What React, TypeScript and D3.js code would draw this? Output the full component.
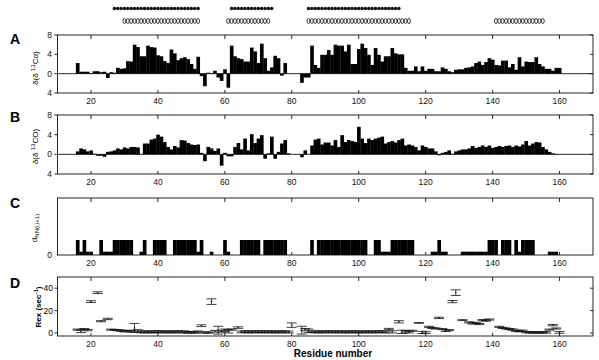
import React from "react";
import * as d3 from "d3";

// ---------- DATA ----------
const caStart = 16;
const caShift = [
  2.2, 0.4, 0.4, 0.4, 0.1, 0.5, 0.5, 0.3, 0.4, -0.9,
  0.3, 0.2, 1.2, 1.0, 1.1, 2.6, 2.5, 6.0, 5.5, 3.6,
  3.6, 5.8, 5.5, 5.4, 3.8, 3.6, 2.6, 2.2, 5.0, 4.2,
  2.8, 3.2, 3.4, 3.0, 2.0, 1.0, 3.5, -0.5, -2.6, 0.2,
  0.1, 0.6, -0.8, -1.5, 0.9, -2.9, 5.8, 3.6, 3.2, 3.0,
  2.5, 2.5, 5.4, 4.6, 2.2, 6.2, 3.2, 0.6, 1.3, 3.7,
  3.2, -0.4, 2.2, 0, 0, 0, 0, -1.9, -0.8, -0.8,
  5.8, 1.8, 1.2, 3.9, 3.9, 4.9, 3.9, 6.0, 5.8, 5.8,
  4.6, 6.0, 2.0, 2.0, 5.1, 6.2, 5.3, 3.9, 1.8, 5.3,
  3.9, 2.5, 3.6, 3.6, 5.3, 4.2, 4.0, 4.0, 1.2, 0.6,
  0.6, 1.5, 0.5, 1.5, 0.6, 1.0, 1.0, 0.5, 0.5, 1.3,
  1.0, 0.5, 0.3, 0.8, 0.9, 0.9, 1.2, 1.3, 1.5, 2.2,
  2.5, 1.8, 2.4, 3.2, 2.9, 1.8, 1.7, 2.7, 2.7, 1.3,
  2.0, 0.8, 3.4, 1.5, 2.5, 2.4, 2.4, 3.4, 2.0, 1.5,
  1.0, 1.0, 0.6, 1.2, 1.2,
];

const coStart = 16;
const coShift = [
  0.6, 1.2, 1.0, 0.6, 0.8, 0.1, -0.3, -0.3, -0.5, 0.5,
  0.6, 0.8, 1.2, 1.0, 1.4, 1.2, 1.5, 1.5, 1.4, 0,
  2.2, 2.2, 3.0, 3.2, 4.0, 3.6, 2.5, 1.5, 1.0, 1.7,
  1.4, 2.9, 2.8, 2.3, 2.0, 1.9, 2.0, 0.3, -1.4, 1.5,
  1.2, 0.7, 1.2, -2.3, 0.3, -0.4, -0.4, 1.5, 2.3, 1.0,
  3.2, 0.8, 4.1, 2.3, 3.2, 3.9, -0.9, 0.2, 3.6, -0.9,
  0.5, 2.2, 2.9, 0.2, 0, 0, 0, -0.6, 0.8, 0,
  1.8, 3.0, 3.2, 2.0, 2.4, 2.4, 1.8, 2.9, 1.5, 3.9,
  2.5, 2.9, 2.7, 2.5, 5.6, 3.2, 2.3, 3.2, 2.9, 3.2,
  3.4, 3.6, 2.2, 2.5, 2.7, 2.4, 2.9, 3.2, 1.8, 2.0,
  1.8, 1.5, 0.8, 1.8, 1.5, 1.2, 1.2, 0.6, -0.2, 0.3,
  0.5, 0.8, 0.1, 0.6, 0.8, 1.0, 1.0, 1.2, 1.7, 1.3,
  1.5, 1.8, 1.5, 1.8, 1.3, 1.5, 1.7, 1.5, 1.7, 1.8,
  1.5, 1.8, 1.6, 2.0, 2.7, 1.8, 2.2, 2.5, 2.4, 1.5,
  1.0, 0.5, 0.2, -0.1,
];

// dNN(i,i+1): 1 = strong, 0.22 = weak
const dnnResidues = [
  16, 17, 18, 19, 20, 23, 24, 25, 26, 27, 28, 29, 30, 31, 32, 35, 36,
  39, 40, 41, 42, 45, 46, 47, 48, 49, 50, 51, 52, 53, 56, 60, 61,
  65, 66, 67, 68, 69, 70, 72, 73, 74, 75, 76, 77, 78, 86,
  88, 89, 90, 91, 92, 93, 94, 95, 96, 97, 98, 99, 100, 101, 102,
  105, 106, 107, 108, 109, 110, 111, 112, 113, 114, 115, 116,
  122, 123, 124, 125, 126, 131, 132, 133, 134, 135, 136, 137, 138,
  139, 140, 141, 143, 144, 145, 147, 148, 149, 150, 151, 152, 157, 158, 159,
];
const dnnValues = [
  1, 0.22, 1, 0.22, 0.22, 1, 0.22, 0.22, 0.22, 1, 1, 1, 1, 1, 1, 0.22, 1,
  1, 1, 1, 1, 1, 1, 1, 1, 1, 1, 1, 0.22, 1, 0.22, 1, 0.22,
  1, 1, 1, 1, 1, 1, 1, 1, 1, 1, 1, 1, 1, 1,
  1, 1, 1, 1, 1, 1, 1, 1, 1, 1, 1, 1, 1, 1, 1,
  1, 1, 0.22, 0.22, 0.22, 1, 1, 1, 1, 1, 1, 1,
  0.22, 0.22, 1, 0.22, 0.22, 0.22, 0.22, 0.22, 0.22, 0.22, 0.22, 0.22, 0.22,
  1, 1, 1, 1, 1, 1, 1, 0.22, 1, 1, 1, 1, 0.22, 0.22, 0.22,
];

// Rex (sec^-1)
const rexResidues = [
  16, 17, 18, 19, 20, 22, 23, 25, 26, 27, 28, 29, 30, 31, 32, 33, 34,
  35, 36, 37, 38, 39, 40, 41, 42, 43, 44, 45, 46, 47, 48,
  49, 50, 51, 52, 53, 54, 55, 56, 57, 58, 59, 60, 61, 62, 64,
  65, 66, 67, 68, 69, 70, 71, 72, 73, 74, 75, 76, 77, 78, 79, 80,
  83, 84, 85, 86, 87, 88, 89, 90, 91, 92, 93, 94, 95, 96, 97, 98, 99, 100,
  101, 102, 103, 104, 105, 106, 107, 108, 109, 110, 112, 113, 114, 115, 116,
  118, 119, 120, 121, 122, 123, 124, 125, 126, 127, 128, 129, 131, 133, 134,
  135, 136, 137, 138, 139, 142, 143, 144, 145, 146, 147, 148, 149, 150,
  151, 152, 153, 154, 155, 156, 157, 158, 159, 160,
];
const rexValues = [
  3, 1.5, 3.5, 2.5, 28, 36, 10.5, 12.5, 3, 2.8, 2.5, 2, 1.5, 2, 1.5, 4.5, 2,
  1.0, 0.8, 1.1, 0.9, 1.0, 1.2, 0.9, 1.0, 1.1, 0.8, 1.0, 1.2, 0.9, 1.0,
  0.5, 0.8, 0.5, 1, 6.5, 0.5, 0.3, 28, 1.5, 2.5, 1.5, 2.5, 1.5, 3, 4.8,
  1.0, 1.1, 0.9, 1.0, 1.0, 1.2, 0.9, 1.0, 1.1, 1.0, 0.9, 1.0, 1.1, 1.0, 0.9, 7,
  2.5, 3, 2, 1.0, 1.1, 0.9, 1.0, 1.0, 1.2, 0.9, 1.0, 1.1, 1.0, 0.9, 1.0, 1.1, 1.0, 0.9,
  1.0, 1.0, 1.1, 0.9, 1.0, 1.2, 1.0, 0.9, 3.5, 1, 10, 1, 1.5, 0.8, 2,
  9, 0.5, 0.3, 5.5, 4.5, 4, 13.5, 3.5, 2, 2.5, 28, 36, 11.5, 9.5, 8.5,
  9, 8, 11.5, 11, 12, 5.5, 4.5, 4, 3.5, 3, 2, 1.5, 2, 0.8,
  0.5, 0.5, 0.5, 0.5, 0.5, 0.5, 3, 7, 4, 0.5,
];
const rexErrors = [
  0.5, 1.2, 0.5, 0.6, 0.8, 0.8, 0.5, 0.6, 0.4, 0.4, 0.5, 0.5, 0.6, 0.5, 0.7, 4, 1,
  0.8, 0.8, 0.8, 0.8, 0.8, 0.8, 0.8, 0.8, 0.8, 0.8, 0.8, 0.8, 0.8, 0.8,
  0.8, 0.6, 0.7, 0.8, 0.8, 0.6, 0.5, 2.5, 0.8, 3.5, 0.8, 1, 1.5, 0.6, 0.7,
  0.8, 0.8, 0.8, 0.8, 0.8, 0.8, 0.8, 0.8, 0.8, 0.8, 0.8, 0.8, 0.8, 0.8, 0.8, 2,
  3.5, 1, 1.5, 0.8, 0.8, 0.8, 0.8, 0.8, 0.8, 0.8, 0.8, 0.8, 0.8, 0.8, 0.8, 0.8, 0.8, 0.8,
  0.8, 0.8, 0.8, 0.8, 0.8, 0.8, 0.8, 0.8, 0.6, 1, 1, 1.5, 0.7, 0.8, 0.5,
  0.3, 1, 0.8, 0.5, 0.5, 0.5, 0.6, 0.5, 0.7, 0.5, 1, 2.5, 0.4, 0.5, 0.6,
  0.5, 0.5, 0.5, 0.5, 0.5, 0.5, 0.5, 0.5, 0.5, 0.6, 0.6, 0.5, 0.6, 0.6,
  0.6, 0.6, 0.6, 0.6, 0.6, 0.6, 0.5, 0.6, 0.5, 0.8,
];

// secondary-structure segments [start, end]
const ssFilled = [[27, 52], [62, 74], [85, 112]];
const ssOpen = [[30, 52], [61, 73], [85, 115], [141, 155]];

const xTicks = [20, 40, 60, 80, 100, 120, 140, 160];
const shiftTicks = [8, 4, 0, -4];
const shiftTickLabels = ["8", "4", "0", "4"];
const rexTicks = [0, 20, 40];

// ---------- LAYOUT ----------
const W = 599;
const H = 360;
const FONT = "'Liberation Sans', Arial, Helvetica, sans-serif";
const x = d3.scaleLinear().domain([10, 170]).range([57.5, 593]);
const X0 = 57.5;
const X1 = 593;

type Panel = { top: number; bottom: number; y: d3.ScaleLinear<number, number> };
const pA: Panel = { top: 35, bottom: 93, y: d3.scaleLinear().domain([-4, 8]).range([93, 35]) };
const pB: Panel = { top: 115, bottom: 174, y: d3.scaleLinear().domain([-4, 8]).range([174, 115]) };
const pC: Panel = { top: 198, bottom: 255, y: d3.scaleLinear().domain([0, 3.8]).range([255, 198]) };
const pD: Panel = { top: 277, bottom: 336, y: d3.scaleLinear().domain([-2.7, 50]).range([336, 277]) };

function Frame({ p }: { p: Panel }) {
  return (
    <g>
      <rect x={X0} y={p.top} width={X1 - X0} height={p.bottom - p.top} fill="none" stroke="#111" strokeWidth={0.9} />
      {xTicks.map((t) => (
        <g key={t}>
          <line x1={x(t)} x2={x(t)} y1={p.top} y2={p.top + 4} stroke="#111" strokeWidth={0.9} />
          <line x1={x(t)} x2={x(t)} y1={p.bottom} y2={p.bottom - 3} stroke="#111" strokeWidth={0.9} />
          <text x={x(t)} y={p.bottom + 10.5} fontSize={8.5} fontFamily={FONT} textAnchor="middle" fill="#111">
            {t}
          </text>
        </g>
      ))}
    </g>
  );
}

function ShiftBars({ p, start, vals }: { p: Panel; start: number; vals: number[] }) {
  const y0 = p.y(0);
  return (
    <g>
      {vals.map((v, i) => {
        const r = start + i;
        if (v === 0) return null;
        const yv = p.y(v);
        return (
          <rect key={r} x={x(r - 0.5)} width={x(r + 0.5) - x(r - 0.5) + 0.3} y={Math.min(yv, y0)} height={Math.abs(yv - y0)} fill="#000" />
        );
      })}
      <line x1={X0} x2={X1} y1={y0} y2={y0} stroke="#111" strokeWidth={0.9} />
      {shiftTicks.map((t, i) => (
        <g key={t}>
          <line x1={X0 - 3} x2={X0} y1={p.y(t)} y2={p.y(t)} stroke="#111" strokeWidth={0.9} />
          <line x1={X1 - 3} x2={X1} y1={p.y(t)} y2={p.y(t)} stroke="#111" strokeWidth={0.9} />
          <text x={52} y={p.y(t) + 3} fontSize={8.5} fontFamily={FONT} textAnchor="end" fill="#111">
            {shiftTickLabels[i]}
          </text>
        </g>
      ))}
    </g>
  );
}

export default function App() {
  const filledDots: number[] = [];
  ssFilled.forEach(([a, b]) => d3.range(a, b + 1).forEach((r) => filledDots.push(r)));
  const openDots: number[] = [];
  ssOpen.forEach(([a, b]) => d3.range(a, b + 1).forEach((r) => openDots.push(r)));

  return (
    <svg width={W} height={H} viewBox={`0 0 ${W} ${H}`} style={{ position: "absolute", left: 0, top: 0, background: "#fff" }}>
      <rect x={0} y={0} width={W} height={H} fill="#fff" />
      {/* secondary structure */}
      {filledDots.map((r) => (
        <circle key={"f" + r} cx={x(r)} cy={8.5} r={1.75} fill="#111" />
      ))}
      {openDots.map((r) => (
        <ellipse key={"o" + r} cx={x(r)} cy={21} rx={1.45} ry={2.6} fill="#fff" stroke="#111" strokeWidth={0.8} />
      ))}

      {/* Panel A */}
      <ShiftBars p={pA} start={caStart} vals={caShift} />
      <Frame p={pA} />
      <text x={10} y={44} fontSize={14} fontWeight="bold" fontFamily={FONT}>A</text>
      <text transform={`translate(38,${(pA.top + pA.bottom) / 2 + 4}) rotate(-90)`} fontSize={8} fontFamily={FONT} textAnchor="middle">
        δ(δ <tspan fontSize={6} dy={-3}>13</tspan><tspan dy={3}>Cα)</tspan>
      </text>

      {/* Panel B */}
      <ShiftBars p={pB} start={coStart} vals={coShift} />
      <Frame p={pB} />
      <text x={10} y={122} fontSize={14} fontWeight="bold" fontFamily={FONT}>B</text>
      <text transform={`translate(38,${(pB.top + pB.bottom) / 2 + 2}) rotate(-90)`} fontSize={8} fontFamily={FONT} textAnchor="middle">
        δ(δ <tspan fontSize={6} dy={-3}>13</tspan><tspan dy={3}>CO)</tspan>
      </text>

      {/* Panel C */}
      <g>
        {dnnResidues.map((r, i) => {
          const v = dnnValues[i];
          return (
            <rect key={r} x={x(r - 0.5)} width={x(r + 0.5) - x(r - 0.5) + 0.3} y={pC.y(v)} height={pC.y(0) - pC.y(v)} fill="#000" />
          );
        })}
      </g>
      <Frame p={pC} />
      <text x={52} y={pC.y(0) + 3} fontSize={8.5} fontFamily={FONT} textAnchor="end">0</text>
      <text x={10} y={208} fontSize={14} fontWeight="bold" fontFamily={FONT}>C</text>
      <text transform={`translate(37,228) rotate(-90)`} fontSize={8} fontFamily={FONT} textAnchor="middle">
        d<tspan fontSize={6} dy={2}>NN(i,i+1)</tspan>
      </text>

      {/* Panel D */}
      <g>
        {rexResidues.map((r, i) => {
          const v = rexValues[i];
          const e = rexErrors[i];
          const cx = x(r);
          const yt = pD.y(v + e);
          const yb = pD.y(v - e);
          return (
            <g key={r} stroke="#111" strokeWidth={0.8}>
              <line x1={cx} x2={cx} y1={yt} y2={yb} />
              <line x1={cx - 5} x2={cx + 5} y1={yt} y2={yt} />
              <line x1={cx - 5} x2={cx + 5} y1={yb} y2={yb} />
              <line x1={cx - 0.8} x2={cx + 0.8} y1={pD.y(v)} y2={pD.y(v)} />
            </g>
          );
        })}
      </g>
      <Frame p={pD} />
      {rexTicks.map((t) => (
        <g key={t}>
          <line x1={X0 - 3} x2={X0} y1={pD.y(t)} y2={pD.y(t)} stroke="#111" strokeWidth={0.9} />
          <line x1={X1 - 3} x2={X1} y1={pD.y(t)} y2={pD.y(t)} stroke="#111" strokeWidth={0.9} />
          <text x={53} y={pD.y(t) + 3} fontSize={8.5} fontFamily={FONT} textAnchor="end">{t}</text>
        </g>
      ))}
      <text x={10} y={288} fontSize={14} fontWeight="bold" fontFamily={FONT}>D</text>
      <text transform={`translate(41,307) rotate(-90)`} fontSize={8} fontWeight="bold" fontFamily={FONT} textAnchor="middle">
        Rex  (sec<tspan fontSize={6} dy={-3}>-1</tspan><tspan dy={3}>)</tspan>
      </text>
      <text x={333} y={357} fontSize={10} fontWeight="bold" fontFamily={FONT} textAnchor="middle">
        Residue  number
      </text>
    </svg>
  );
}
